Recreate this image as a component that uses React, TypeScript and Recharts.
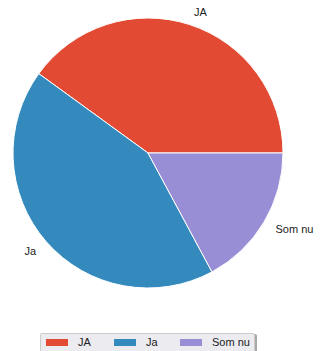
import { PieChart, Pie, Cell, Legend } from "recharts";

const categories = ["JA", "Ja", "Som nu"];
const values = [14, 15, 6];
const colors = ["#E24A33", "#348ABD", "#988ED5"];

const data = categories.map((name, i) => ({ name, value: values[i] }));

const RAD = Math.PI / 180;
const FONT = "'Liberation Sans', Arial, sans-serif";

function renderLabel(props: any) {
  const { cx, cy, midAngle, outerRadius, name } = props;
  const r = outerRadius * 1.1;
  const cos = Math.cos(-midAngle * RAD);
  const x = cx + r * cos;
  const y = cy + r * Math.sin(-midAngle * RAD);
  return (
    <text
      x={x}
      y={y}
      textAnchor={cos >= 0 ? "start" : "end"}
      dominantBaseline="central"
      fontSize={11}
      fill="#222"
      fontFamily={FONT}
    >
      {name}
    </text>
  );
}

const itemWidths = [68, 66, 72];

function LegendBox(props: any) {
  const payload = props.payload || [];
  return (
    <div
      style={{
        width: 215,
        height: 22,
        background: "#EBEBF0",
        border: "1px solid #CCCCCC",
        borderRadius: 2,
        boxShadow: "2px 1px 0 #A8A8A8",
        display: "flex",
        alignItems: "center",
        fontFamily: FONT,
        fontSize: 11,
        color: "#222",
        boxSizing: "border-box",
        paddingLeft: 5,
        paddingBottom: 4,
        whiteSpace: "nowrap",
      }}
    >
      {payload.map((p: any, i: number) => (
        <div key={p.value} style={{ display: "flex", alignItems: "center", width: itemWidths[i], flexShrink: 0 }}>
          <span style={{ display: "inline-block", width: 22, height: 7, background: p.color, marginRight: 10, flexShrink: 0 }} />
          <span>{p.value}</span>
        </div>
      ))}
    </div>
  );
}

export default function App() {
  return (
    <div style={{ position: "absolute", left: 0, top: 0, width: 325, height: 351, background: "#fff", overflow: "hidden" }}>
      <PieChart width={325} height={351} margin={{ top: 0, right: 0, bottom: 0, left: 0 }}>
        <Pie
          data={data}
          dataKey="value"
          nameKey="name"
          cx={148}
          cy={153}
          outerRadius={135}
          startAngle={0}
          endAngle={360}
          stroke="#fff"
          strokeWidth={1}
          label={renderLabel}
          labelLine={false}
          isAnimationActive={false}
        >
          {data.map((d, i) => (
            <Cell key={d.name} fill={colors[i]} />
          ))}
        </Pie>
        <Legend
          content={LegendBox}
          wrapperStyle={{ position: "absolute", left: 40, top: 333, width: 215, bottom: "auto" }}
        />
      </PieChart>
    </div>
  );
}
